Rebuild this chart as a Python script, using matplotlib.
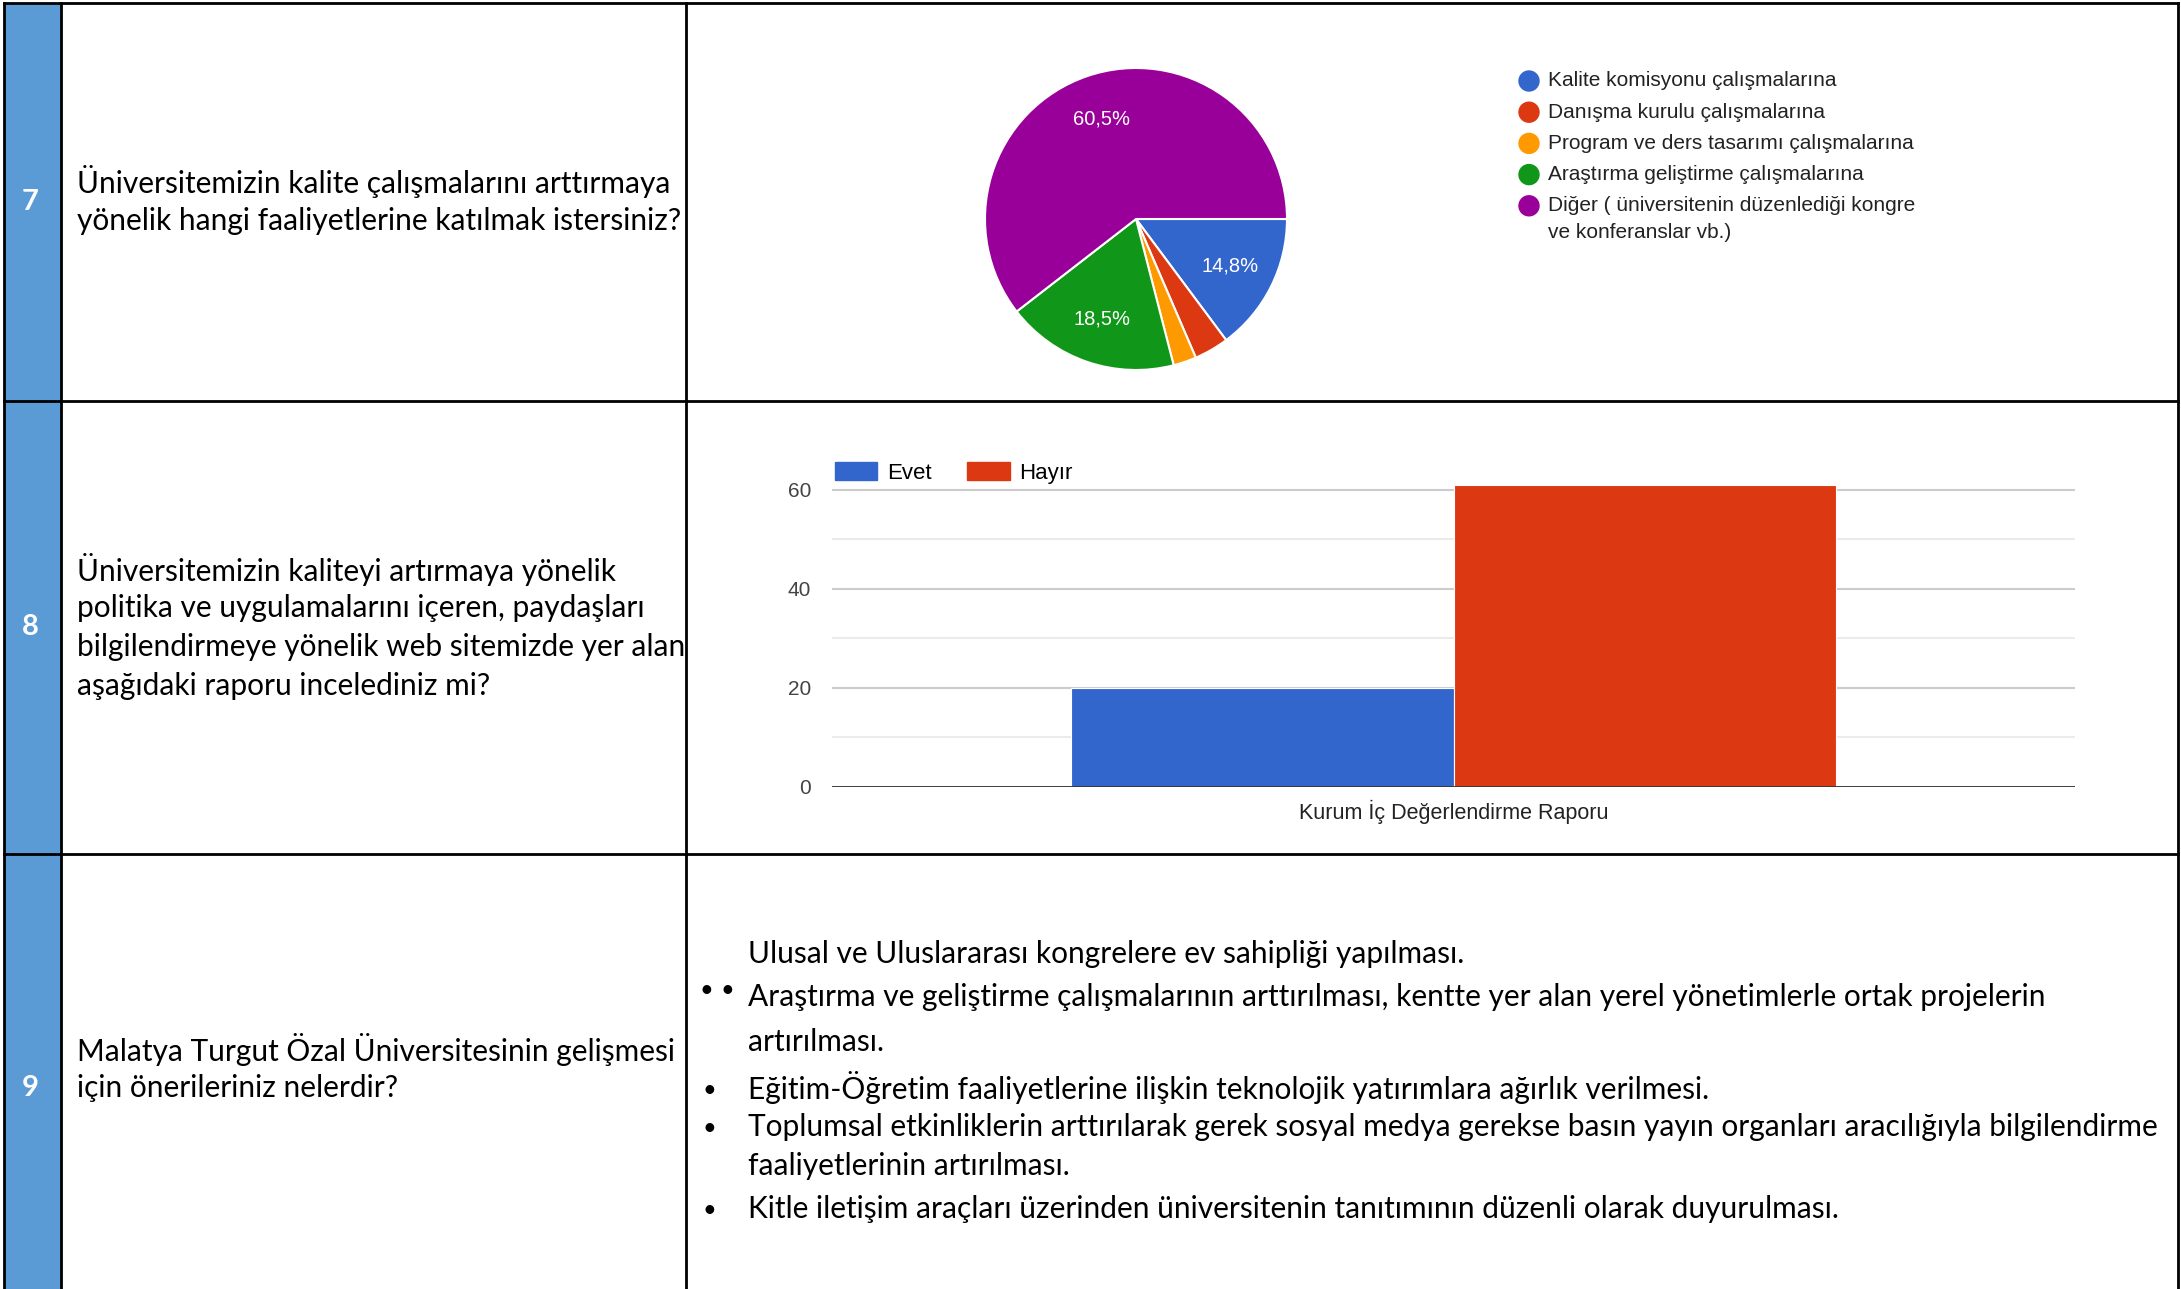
"""survey table page: pie (q7), bar (q8) and text answers (q9)"""

import matplotlib
matplotlib.use('Agg')
import matplotlib.pyplot as plt
from matplotlib.patches import Rectangle, Circle, Patch

# data
row_numbers = ['7', '8', '9']
questions = [
    ['Üniversitemizin kalite çalışmalarını arttırmaya',
     'yönelik hangi faaliyetlerine katılmak istersiniz?'],
    ['Üniversitemizin kaliteyi artırmaya yönelik',
     'politika ve uygulamalarını içeren, paydaşları',
     'bilgilendirmeye yönelik web sitemizde yer alan',
     'aşağıdaki raporu incelediniz mi?'],
    ['Malatya Turgut Özal Üniversitesinin gelişmesi',
     'için önerileriniz nelerdir?'],
]

pie_labels = ['Kalite komisyonu çalışmalarına',
              'Danışma kurulu çalışmalarına',
              'Program ve ders tasarımı çalışmalarına',
              'Araştırma geliştirme çalışmalarına',
              'Diğer ( üniversitenin düzenlediği kongre\nve konferanslar vb.)']
pie_counts = [12, 3, 2, 15, 49]
pie_colors = ['#3366cc', '#dc3912', '#ff9900', '#109618', '#990099']

bar_category = ['Kurum İç Değerlendirme Raporu']
bar_series = ['Evet', 'Hayır']
bar_values = [20, 61]
bar_colors = ['#3366cc', '#dc3912']

# (bullet, text) pairs for the answers of question 9
answers = [
    ('', 'Ulusal ve Uluslararası kongrelere ev sahipliği yapılması.'),
    ('••', 'Araştırma ve geliştirme çalışmalarının arttırılması, kentte yer alan yerel yönetimlerle ortak projelerin'),
    ('', 'artırılması.'),
    ('•', 'Eğitim-Öğretim faaliyetlerine ilişkin teknolojik yatırımlara ağırlık verilmesi.'),
    ('•', 'Toplumsal etkinliklerin arttırılarak gerek sosyal medya gerekse basın yayın organları aracılığıyla bilgilendirme'),
    ('', 'faaliyetlerinin artırılması.'),
    ('•', 'Kitle iletişim araçları üzerinden üniversitenin tanıtımının düzenli olarak duyurulması.'),
]

W, H = 2181, 1289
fig = plt.figure(figsize=(W / 100, H / 100), dpi=100)

# table drawn in pixel coordinates
tab = fig.add_axes([0, 0, 1, 1])
tab.set_xlim(0, W)
tab.set_ylim(H, 0)
tab.axis('off')

body_font = 'Lato'
text_size = 21.5
tab.add_patch(Rectangle((4, 3), 57, H, color='#5b9bd5', zorder=0))
for x in [4, 61, 686, 2178]:
    tab.plot([x, x], [3, H], color='black', lw=2, zorder=3)
for y in [3, 401, 854]:
    tab.plot([4, 2178], [y, y], color='black', lw=2, zorder=3)

num_y = [202, 627, 1088]
for num, y in zip(row_numbers, num_y):
    tab.text(30, y, num, color='white', fontsize=21, fontweight='bold',
             family=body_font, ha='center', va='center')

q_line_y = [[182, 221], [569, 608, 647, 686], [1049, 1088]]
for lines, ys in zip(questions, q_line_y):
    for line, y in zip(lines, ys):
        tab.text(77, y, line, fontsize=text_size, family=body_font, ha='left', va='center')

ans_y = [954, 997, 1042, 1088, 1127, 1166, 1209]
for (bullet, line), y in zip(answers, ans_y):
    if len(bullet) == 2:
        for bx in [706, 727]:
            tab.text(bx, y - 6, '•', fontsize=17, family=body_font, ha='center', va='center')
    elif bullet:
        tab.text(709, y + 2, '•', fontsize=17, family=body_font, ha='center', va='center')
    tab.text(748, y, line, fontsize=text_size, family=body_font, ha='left', va='center')

# pie chart (question 7)
cx, cy, r = 1136, 219, 151
ax_pie = fig.add_axes([(cx - r) / W, 1 - (cy + r) / H, 2 * r / W, 2 * r / H])
wedges, _, autotexts = ax_pie.pie(
    pie_counts, colors=pie_colors, startangle=0, counterclock=False,
    autopct=lambda p: f'{p:.1f}%'.replace('.', ',') if p > 10 else '',
    pctdistance=0.7, wedgeprops=dict(edgecolor='white', linewidth=1.5),
    textprops=dict(color='white', fontsize=14.5, family='Liberation Sans'))
ax_pie.set_xlim(-1, 1)
ax_pie.set_ylim(-1, 1)

leg_x, leg_y0, leg_dy = 1529, 81, 31.2
for i, (lab, col) in enumerate(zip(pie_labels, pie_colors)):
    y = leg_y0 + i * leg_dy
    tab.add_patch(Circle((leg_x, y), 10, color=col, zorder=2))
    for j, part in enumerate(lab.split('\n')):
        tab.text(leg_x + 19, y + j * 27, part, fontsize=15, family='Liberation Sans',
                 color='#222222', ha='left', va='center')

# bar chart (question 8)
ax_bar = fig.add_axes([832 / W, 1 - 787 / H, (2075 - 832) / W, 307 / H])
w = 0.3076
xs = range(len(bar_category))
for i, (name, val, col) in enumerate(zip(bar_series, bar_values, bar_colors)):
    ax_bar.bar([x + (i - 0.5) * w for x in xs], [val], width=w, color=col,
               edgecolor='white', linewidth=0.8, label=name, zorder=2)
ax_bar.set_xlim(-0.5, 0.5)
ax_bar.set_ylim(0, 62)
ax_bar.set_yticks([0, 20, 40, 60])
ax_bar.set_yticks([10, 30, 50], minor=True)
ax_bar.set_xticks(list(xs), bar_category)
ax_bar.grid(axis='y', which='major', color='#cccccc', lw=1.5, zorder=0)
ax_bar.grid(axis='y', which='minor', color='#ebebeb', lw=1.5, zorder=0)
ax_bar.axhline(0, color='#333333', lw=2, zorder=3)
for s in ax_bar.spines.values():
    s.set_visible(False)
ax_bar.tick_params(axis='both', which='both', length=0)
ax_bar.tick_params(axis='y', pad=15, labelsize=15, labelcolor='#444444')
ax_bar.tick_params(axis='x', pad=9, labelsize=15.5, labelcolor='#222222')
for t in ax_bar.get_xticklabels() + ax_bar.get_yticklabels():
    t.set_family('Liberation Sans')
ax_bar.legend(handles=[Patch(color=c) for c in bar_colors], labels=bar_series,
              loc='center left', bbox_to_anchor=(835 / W, 1 - 473 / H),
              bbox_transform=fig.transFigure, ncol=2, frameon=False,
              borderpad=0, borderaxespad=0, handlelength=1.9, handleheight=0.88,
              handletextpad=0.45, columnspacing=1.6,
              prop=dict(family='Liberation Sans', size=16))

fig.savefig('out.png', dpi=100)
